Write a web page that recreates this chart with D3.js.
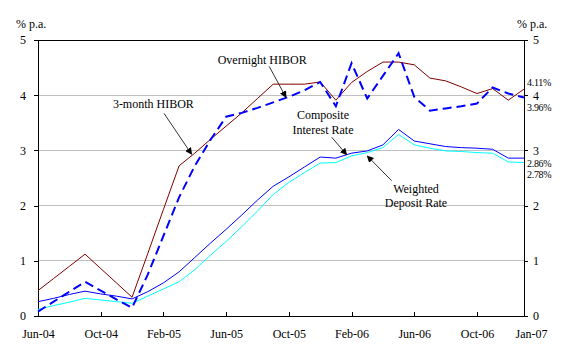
<!DOCTYPE html>
<html>
<head>
<meta charset="utf-8">
<script src="https://cdn.jsdelivr.net/npm/d3@7"></script>
<style>
  html, body { margin: 0; padding: 0; background: #fff; }
  svg { display: block; font-family: "Liberation Serif", "Times New Roman", serif; }
</style>
</head>
<body>
<svg id="chart" width="569" height="354"></svg>
<script>
// Monthly observations, Jun-04 (index 0) to Jan-07 (index 31)
const months = ["Jun-04","Jul-04","Aug-04","Sep-04","Oct-04","Nov-04","Dec-04",
  "Jan-05","Feb-05","Mar-05","Apr-05","May-05","Jun-05","Jul-05","Aug-05","Sep-05",
  "Oct-05","Nov-05","Dec-05","Jan-06","Feb-06","Mar-06","Apr-06","May-06","Jun-06",
  "Jul-06","Aug-06","Sep-06","Oct-06","Nov-06","Dec-06","Jan-07"];

const hibor3m = [0.46,0.68,0.90,1.12,0.86,0.60,0.34,1.13,1.93,2.72,2.95,3.20,3.44,3.68,3.94,4.20,
  4.20,4.20,4.24,3.91,4.23,4.43,4.60,4.60,4.55,4.31,4.26,4.15,4.03,4.12,3.91,4.11];

const hiborON = [0.08,0.26,0.44,0.62,0.46,0.30,0.15,0.75,1.45,2.15,2.72,3.19,3.61,3.68,3.77,3.87,
  3.97,4.09,4.24,3.80,4.58,3.94,4.35,4.76,3.97,3.72,3.76,3.80,3.85,4.14,4.03,3.96];

const composite = [0.26,0.32,0.39,0.45,0.40,0.36,0.31,0.44,0.60,0.80,1.06,1.32,1.57,1.83,2.10,2.35,
  2.52,2.70,2.88,2.86,2.95,2.99,3.10,3.38,3.17,3.12,3.07,3.05,3.04,3.02,2.86,2.86];

const deposit = [0.12,0.19,0.25,0.32,0.29,0.26,0.23,0.36,0.49,0.62,0.84,1.10,1.35,1.62,1.90,2.20,
  2.42,2.60,2.77,2.78,2.90,2.96,3.05,3.29,3.10,3.04,2.99,2.98,2.96,2.95,2.79,2.78];

const yTicks = [0,1,2,3,4,5];
const xTickIdx = [0,4,8,12,16,20,24,28,31];
const endLabels = [
  {text:"4.11%", v:4.11, dy:-3},
  {text:"3.96%", v:3.96, dy:14},
  {text:"2.86%", v:2.86, dy:9},
  {text:"2.78%", v:2.78, dy:15.5}
];
// annotation anchors in data space (month index, value)
const notes = [
  {lines:["3-month HIBOR"], m:7.36, v:3.76, from:[8.04,3.67], to:[9.80,2.93]},
  {lines:["Overnight HIBOR"], m:14.3, v:4.57, from:[14.75,4.52], to:[15.82,3.96]},
  {lines:["Composite","Interest Rate"], m:18.18, v:3.56, from:[18.73,3.24], to:[19.69,2.92]},
  {lines:["Weighted","Deposit Rate"], m:24.11, v:2.23, from:[22.56,2.45], to:[21.0,2.90]}
];

const svg = d3.select("#chart");
const L = 38, R = 524, T = 40, B = 316;
const x = d3.scaleLinear().domain([0, 31]).range([L, R]);
const y = d3.scaleLinear().domain([0, 5]).range([B, T]);

// gridlines
svg.append("g").selectAll("line").data([1,2,3,4]).join("line")
  .attr("x1", L).attr("x2", R)
  .attr("y1", d => y(d)).attr("y2", d => y(d))
  .attr("stroke", "#c0c0c0").attr("stroke-width", 1).attr("shape-rendering","crispEdges");

// axes
const leftAxis = d3.axisLeft(y).tickValues(yTicks).tickFormat(d3.format("d")).tickSizeInner(4).tickSizeOuter(0).tickPadding(8);
const rightAxis = d3.axisRight(y).tickValues(yTicks).tickFormat(d3.format("d")).tickSizeInner(4).tickSizeOuter(0).tickPadding(5);
const bottomAxis = d3.axisBottom(x).tickValues(xTickIdx).tickFormat(i => months[i]).tickSizeInner(-4).tickSizeOuter(0).tickPadding(13);

function styleAxis(g) {
  g.selectAll("path").attr("stroke", "#000").attr("shape-rendering","crispEdges");
  g.selectAll("line").attr("stroke", "#000").attr("shape-rendering","crispEdges");
  g.selectAll("text").attr("fill", "#000").style("font-family", "Liberation Serif").style("font-size", "12px");
}
svg.append("g").attr("transform", `translate(${L},0)`).call(leftAxis).call(styleAxis);
svg.append("g").attr("transform", `translate(${R},0)`).call(rightAxis).call(styleAxis);
const bx = svg.append("g").attr("transform", `translate(0,${B})`).call(bottomAxis).call(styleAxis);
bx.selectAll(".tick").filter(d => d === 31).select("line").remove();
bx.selectAll(".tick").filter(d => d === 31).select("text").attr("dx", 7);

// top frame
svg.append("line").attr("x1", L).attr("x2", R).attr("y1", y(5)).attr("y2", y(5))
  .attr("stroke", "#000").attr("shape-rendering","crispEdges");

// unit labels
svg.append("text").attr("x", 16).attr("y", 28).attr("font-size", 12).text("% p.a.");
svg.append("text").attr("x", 517).attr("y", 28).attr("font-size", 12).text("% p.a.");

// series
const line = d3.line().x((d, i) => x(i)).y(d => y(d));
svg.append("path").datum(deposit).attr("d", line).attr("fill","none").attr("stroke","#00ffff").attr("stroke-width",1);
svg.append("path").datum(composite).attr("d", line).attr("fill","none").attr("stroke","#0000ff").attr("stroke-width",1);
svg.append("path").datum(hibor3m).attr("d", line).attr("fill","none").attr("stroke","#800000").attr("stroke-width",1);
svg.append("path").datum(hiborON).attr("d", line).attr("fill","none").attr("stroke","#0000ff").attr("stroke-width",2).attr("stroke-dasharray","9,5");

// end value labels
svg.append("g").selectAll("text").data(endLabels).join("text")
  .attr("x", R + 3).attr("y", d => y(d.v) + d.dy)
  .attr("font-size", 10).attr("letter-spacing", -0.3).text(d => d.text);

// arrows
const defs = svg.append("defs");
defs.append("marker").attr("id","arrow").attr("viewBox","0 0 10 10").attr("refX",9).attr("refY",5)
  .attr("markerWidth",7).attr("markerHeight",7).attr("markerUnits","userSpaceOnUse").attr("orient","auto")
  .append("path").attr("d","M0,0 L10,5 L0,10 z").attr("fill","#000");

const ng = svg.append("g");
notes.forEach(n => {
  ng.append("line")
    .attr("x1", x(n.from[0])).attr("y1", y(n.from[1]))
    .attr("x2", x(n.to[0])).attr("y2", y(n.to[1]))
    .attr("stroke", "#333").attr("stroke-width", 1).attr("marker-end", "url(#arrow)");
  const t = ng.append("text").attr("text-anchor","middle").attr("font-size",12);
  n.lines.forEach((s, i) => {
    t.append("tspan").attr("x", x(n.m)).attr("y", y(n.v) + i * 14.5).text(s);
  });
});
</script>
</body>
</html>
